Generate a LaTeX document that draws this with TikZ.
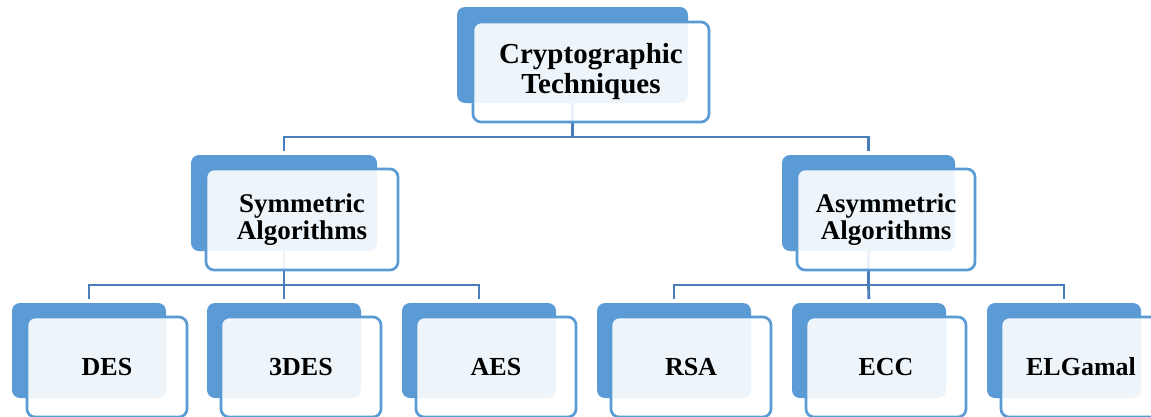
\documentclass[tikz,border=0pt]{standalone}
\usepackage{fontspec}
\setmainfont{Liberation Serif}
\definecolor{saBlue}{RGB}{91,155,213}
\definecolor{lnBlue}{RGB}{74,126,187}
\tikzset{
  backbox/.style={rectangle, rounded corners=8pt, fill=saBlue, inner sep=0pt},
  frontbox/.style={rectangle, rounded corners=8pt, draw=saBlue, line width=2.7pt,
    fill=white, fill opacity=0.9, text opacity=1, inner sep=0pt, align=center,
    font=\fontsize{26}{27}\selectfont\bfseries},
  conn/.style={draw=lnBlue, line width=2.8pt},
}
\begin{document}
\begin{tikzpicture}[x=1pt, y=-1pt]
\useasboundingbox (0,0) rectangle (1151,416);
\clip (0,0) rectangle (1151,416);

% levels of the tree: rows where the branch lines run
\coordinate (rowA) at (0,137);
\coordinate (rowB) at (0,285);

% back plates
\node[backbox, minimum width=231pt, minimum height=96pt] (topB) at (572.5,55) {};
\node[backbox, minimum width=186pt, minimum height=96pt] (symB) at (284,203) {};
\node[backbox, minimum width=173pt, minimum height=96pt] (asymB) at (868.5,203) {};
\foreach \n/\x in {desB/89, tdesB/284, aesB/479, rsaB/674, eccB/869, elgB/1064}
  \node[backbox, minimum width=154pt, minimum height=95pt] (\n) at (\x,350.5) {};

% connectors
\draw[conn] (topB.south) -- (topB.south |- rowA);
\draw[conn, shorten >=4pt] (topB.south |- rowA) -| (symB.north);
\draw[conn, shorten >=4pt] (topB.south |- rowA) -| (asymB.north);

\draw[conn] (symB.south) -- (symB.south |- rowB);
\draw[conn, shorten >=4pt] (symB.south |- rowB) -| (desB.north);
\draw[conn, shorten >=4pt] (symB.south |- rowB) -- (tdesB.north);
\draw[conn, shorten >=4pt] (symB.south |- rowB) -| (aesB.north);

\draw[conn] (asymB.south) -- (asymB.south |- rowB);
\draw[conn, shorten >=4pt] (asymB.south |- rowB) -| (rsaB.north);
\draw[conn, shorten >=4pt] (asymB.south |- rowB) -- (eccB.north);
\draw[conn, shorten >=4pt] (asymB.south |- rowB) -| (elgB.north);

% front cards with the labels
\node[frontbox, minimum width=236pt, minimum height=100pt,
  font=\fontsize{29}{30}\selectfont\bfseries] (top) at (591,72) {Cryptographic\\Techniques};
\node[frontbox, minimum width=192pt, minimum height=101pt,
  font=\fontsize{27}{27}\selectfont\bfseries] (sym) at (302,219.5) {Symmetric\\Algorithms};
\node[frontbox, minimum width=178pt, minimum height=101pt,
  font=\fontsize{27}{27}\selectfont\bfseries] (asym) at (886,219.5) {Asymmetric\\Algorithms};
\foreach \n/\x/\t in {des/107/DES, tdes/301/3DES, aes/496/AES, rsa/691/RSA, ecc/886/ECC, elg/1081/ELGamal}
  \node[frontbox, minimum width=160pt, minimum height=100pt] (\n) at (\x,367) {\t};
\end{tikzpicture}
\end{document}
